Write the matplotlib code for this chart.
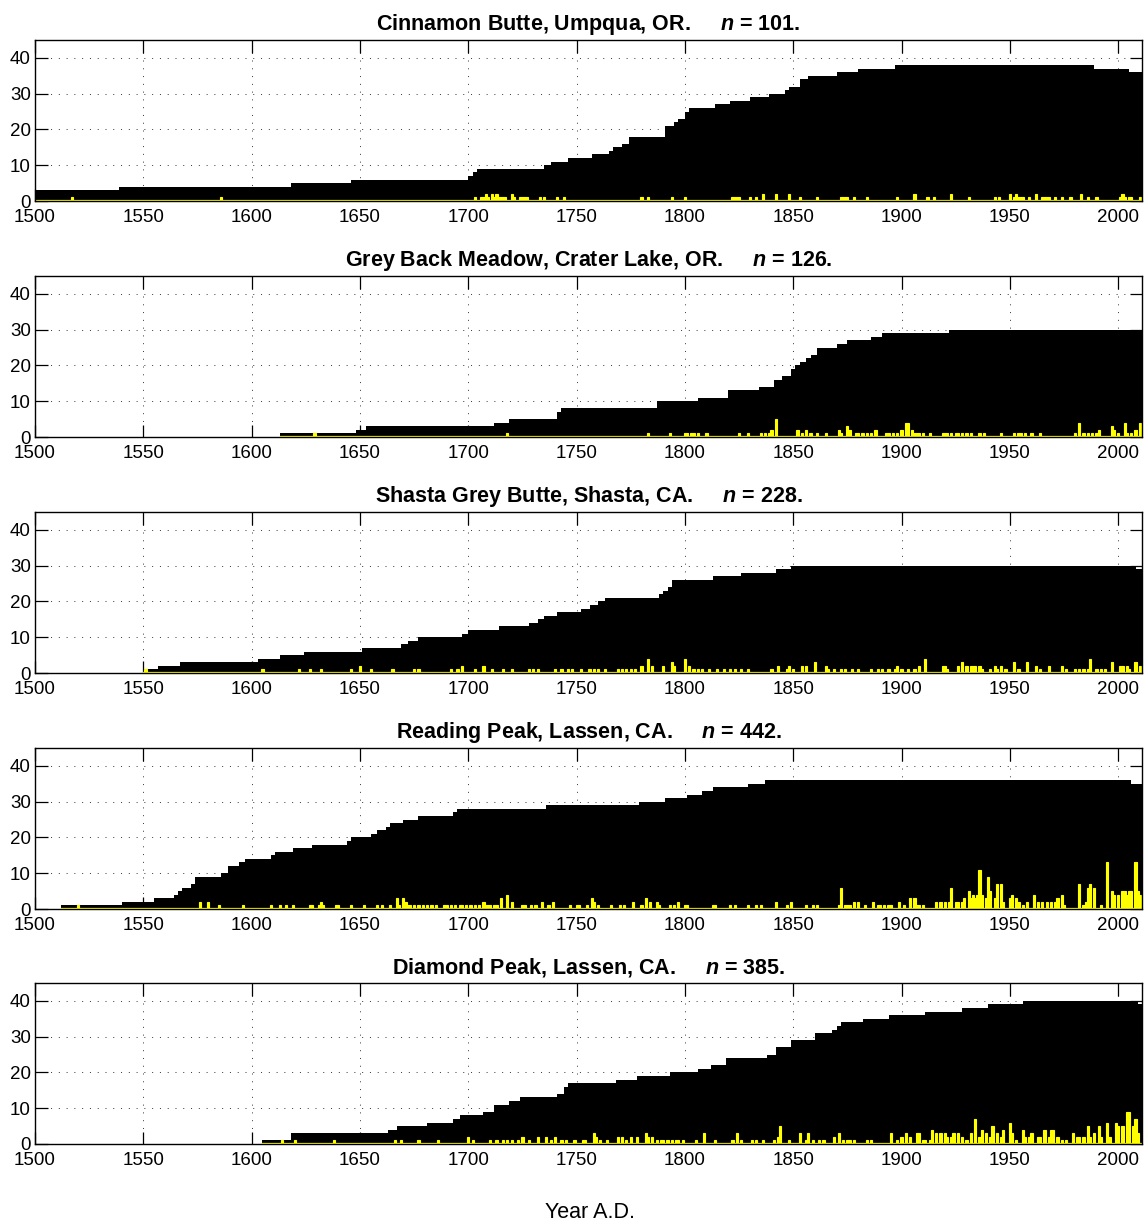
import matplotlib
matplotlib.use("Agg")
import matplotlib.pyplot as plt

plt.rcParams['font.family'] = ['Liberation Sans', 'DejaVu Sans']
plt.rcParams['mathtext.fontset'] = 'custom'
plt.rcParams['mathtext.rm'] = 'Liberation Sans:bold'
plt.rcParams['mathtext.bfit'] = 'Liberation Sans:bold:italic'

END_YEAR = 2011

# site titles and sample sizes
site_names = ["Cinnamon Butte, Umpqua, OR.", "Grey Back Meadow, Crater Lake, OR.",
              "Shasta Grey Butte, Shasta, CA.", "Reading Peak, Lassen, CA.",
              "Diamond Peak, Lassen, CA."]
site_n = [101, 126, 228, 442, 385]

# sample depth: year where depth changes -> new depth
cb_step_yr = [1500, 1539, 1618, 1646, 1700, 1702, 1704, 1735, 1738, 1746, 1757, 1765, 1767,
              1771, 1774, 1791, 1795, 1797, 1800, 1802, 1814, 1821, 1830, 1839, 1846, 1848,
              1853, 1857, 1870, 1880, 1897, 1989, 2005]
cb_step_n = [3, 4, 5, 6, 7, 8, 9, 10, 11, 12, 13, 14, 15, 16, 18, 21, 22, 23, 25, 26, 27, 28,
             29, 30, 31, 32, 34, 35, 36, 37, 38, 37, 36]

gb_step_yr = [1613, 1648, 1653, 1712, 1719, 1741, 1743, 1787, 1806, 1820, 1834, 1841, 1845,
              1849, 1851, 1853, 1856, 1858, 1861, 1870, 1875, 1886, 1891, 1922]
gb_step_n = [1, 2, 3, 4, 5, 7, 8, 10, 11, 13, 14, 16, 17, 19, 20, 21, 22, 23, 25, 26, 27, 28,
             29, 30]

sg_step_yr = [1550, 1557, 1567, 1603, 1613, 1624, 1651, 1669, 1672, 1677, 1697, 1700, 1714,
              1728, 1732, 1735, 1741, 1752, 1756, 1760, 1763, 1788, 1790, 1792, 1794, 1813,
              1826, 1842, 1849, 2008]
sg_step_n = [1, 2, 3, 4, 5, 6, 7, 8, 9, 10, 11, 12, 13, 14, 15, 16, 17, 18, 19, 20, 21, 22, 23,
             24, 26, 27, 28, 29, 30, 29]

rp_step_yr = [1512, 1540, 1555, 1564, 1566, 1568, 1572, 1574, 1586, 1589, 1594, 1597, 1609,
              1611, 1619, 1628, 1644, 1646, 1655, 1658, 1662, 1664, 1670, 1677, 1693, 1695,
              1736, 1779, 1791, 1801, 1808, 1813, 1829, 1837, 2006]
rp_step_n = [1, 2, 3, 4, 5, 6, 7, 9, 10, 12, 13, 14, 15, 16, 17, 18, 19, 20, 21, 22, 23, 24, 25,
             26, 27, 28, 29, 30, 31, 32, 33, 34, 35, 36, 35]

dp_step_yr = [1605, 1618, 1663, 1667, 1681, 1693, 1696, 1707, 1712, 1719, 1724, 1741, 1744,
              1746, 1768, 1778, 1793, 1806, 1812, 1819, 1838, 1842, 1849, 1860, 1868, 1870,
              1872, 1882, 1894, 1911, 1928, 1940, 1956, 2009]
dp_step_n = [1, 3, 4, 5, 6, 7, 8, 9, 11, 12, 13, 14, 16, 17, 18, 19, 20, 21, 22, 24, 25, 27, 29,
             31, 32, 33, 34, 35, 36, 37, 38, 39, 40, 39]

# yearly counts (yellow bars), only non-zero years
cb_yr = [1517, 1586, 1703, 1706, 1707, 1708, 1709, 1711, 1712, 1713, 1714, 1715, 1716, 1717,
         1720, 1721, 1724, 1725, 1726, 1727, 1733, 1735, 1741, 1744, 1780, 1783, 1794, 1800,
         1822, 1823, 1824, 1825, 1830, 1833, 1836, 1842, 1848, 1853, 1861, 1872, 1873, 1874,
         1875, 1878, 1884, 1898, 1906, 1912, 1915, 1923, 1931, 1943, 1945, 1950, 1952, 1953,
         1954, 1955, 1956, 1959, 1962, 1965, 1966, 1967, 1968, 1971, 1974, 1978, 1983, 1986,
         1990, 2001, 2002, 2003, 2005, 2006, 2010]
cb_cnt = [1, 1, 1, 1, 1, 2, 1, 2, 1, 2, 1, 1, 1, 1,
          2, 1, 1, 1, 1, 1, 1, 1, 1, 1, 1, 1, 1, 1,
          1, 1, 1, 1, 1, 1, 2, 2, 2, 1, 1, 1, 1, 1,
          1, 1, 1, 1, 2, 1, 1, 2, 1, 1, 1, 2, 1, 2,
          1, 1, 1, 1, 2, 1, 1, 1, 1, 1, 1, 1, 2, 1,
          1, 1, 2, 1, 1, 1, 1]

gb_yr = [1629, 1718, 1783, 1793, 1800, 1801, 1803, 1804, 1806, 1810, 1825, 1829, 1835, 1837,
         1839, 1840, 1842, 1852, 1854, 1856, 1858, 1861, 1865, 1871, 1872, 1875, 1876, 1879,
         1880, 1882, 1884, 1886, 1888, 1893, 1894, 1896, 1898, 1900, 1902, 1903, 1905, 1906,
         1907, 1908, 1910, 1913, 1919, 1920, 1921, 1923, 1925, 1926, 1928, 1930, 1932, 1936,
         1938, 1946, 1952, 1954, 1955, 1957, 1960, 1964, 1980, 1982, 1984, 1986, 1988, 1990,
         1991, 1997, 1998, 2000, 2003, 2004, 2006, 2008, 2010]
gb_cnt = [1, 1, 1, 1, 1, 1, 1, 1, 1, 1, 1, 1, 1, 1,
          1, 2, 5, 2, 1, 2, 1, 1, 1, 2, 1, 3, 2, 1,
          1, 1, 1, 1, 2, 1, 1, 1, 1, 2, 4, 4, 2, 1,
          1, 1, 1, 1, 1, 1, 1, 1, 1, 1, 1, 1, 1, 1,
          1, 1, 1, 1, 1, 1, 1, 1, 1, 4, 1, 1, 1, 1,
          2, 3, 2, 1, 4, 1, 1, 2, 4]

sg_yr = [1551, 1605, 1622, 1627, 1632, 1646, 1650, 1655, 1665, 1675, 1677, 1692, 1695, 1697,
         1703, 1707, 1711, 1716, 1720, 1728, 1730, 1732, 1740, 1743, 1746, 1748, 1752, 1756,
         1758, 1760, 1763, 1769, 1771, 1773, 1775, 1777, 1780, 1783, 1785, 1790, 1794, 1795,
         1800, 1802, 1804, 1806, 1808, 1811, 1815, 1818, 1821, 1823, 1826, 1829, 1840, 1843,
         1847, 1848, 1850, 1854, 1856, 1860, 1865, 1866, 1869, 1872, 1874, 1877, 1880, 1886,
         1889, 1891, 1894, 1897, 1898, 1900, 1903, 1906, 1908, 1911, 1919, 1920, 1921, 1926,
         1928, 1930, 1932, 1933, 1934, 1936, 1937, 1941, 1943, 1944, 1946, 1948, 1952, 1954,
         1958, 1962, 1964, 1968, 1974, 1976, 1980, 1982, 1984, 1986, 1987, 1990, 1992, 1994,
         1997, 2001, 2002, 2004, 2005, 2008, 2010]
sg_cnt = [1, 1, 1, 1, 1, 1, 2, 1, 1, 1, 1, 1, 1, 2,
          1, 2, 1, 1, 1, 1, 1, 1, 1, 1, 1, 1, 1, 1,
          1, 1, 1, 1, 1, 1, 1, 1, 2, 4, 2, 2, 3, 2,
          4, 2, 1, 1, 1, 1, 1, 1, 1, 1, 1, 1, 1, 2,
          1, 2, 1, 2, 2, 3, 2, 1, 1, 1, 1, 1, 1, 1,
          1, 1, 1, 1, 2, 1, 1, 1, 2, 4, 2, 2, 1, 2,
          3, 2, 2, 2, 2, 2, 1, 1, 2, 1, 2, 1, 3, 1,
          3, 2, 1, 2, 2, 1, 1, 1, 1, 1, 4, 1, 1, 1,
          3, 2, 2, 2, 1, 3, 2]

rp_yr = [1520, 1576, 1580, 1585, 1596, 1609, 1613, 1616, 1619, 1627, 1628, 1631, 1632, 1633,
         1639, 1640, 1646, 1652, 1658, 1660, 1664, 1667, 1668, 1670, 1671, 1672, 1673, 1675,
         1677, 1679, 1681, 1683, 1685, 1689, 1690, 1692, 1694, 1696, 1697, 1699, 1701, 1703,
         1705, 1707, 1708, 1709, 1710, 1712, 1713, 1715, 1718, 1720, 1725, 1726, 1729, 1731,
         1734, 1737, 1739, 1747, 1750, 1751, 1755, 1757, 1758, 1760, 1766, 1770, 1772, 1776,
         1780, 1782, 1784, 1787, 1788, 1793, 1795, 1797, 1800, 1801, 1813, 1814, 1821, 1823,
         1829, 1833, 1835, 1842, 1847, 1849, 1856, 1859, 1861, 1871, 1872, 1874, 1875, 1876,
         1878, 1880, 1883, 1887, 1889, 1890, 1892, 1894, 1895, 1899, 1901, 1904, 1906, 1907,
         1908, 1910, 1916, 1918, 1920, 1922, 1923, 1925, 1926, 1928, 1929, 1931, 1932, 1933,
         1934, 1935, 1936, 1937, 1939, 1940, 1941, 1943, 1944, 1946, 1947, 1950, 1951, 1953,
         1954, 1956, 1958, 1961, 1963, 1965, 1967, 1969, 1971, 1972, 1974, 1975, 1982, 1984,
         1985, 1986, 1987, 1989, 1992, 1995, 1997, 1998, 2000, 2002, 2003, 2004, 2005, 2006,
         2008, 2009, 2010]
rp_cnt = [1, 2, 2, 1, 1, 1, 1, 1, 1, 1, 1, 1, 2, 1,
          1, 1, 1, 1, 1, 1, 1, 3, 1, 3, 2, 1, 1, 1,
          1, 1, 1, 1, 1, 1, 1, 1, 1, 1, 1, 1, 1, 1,
          1, 2, 1, 1, 1, 1, 1, 3, 4, 2, 1, 1, 1, 1,
          2, 1, 2, 1, 1, 1, 1, 3, 2, 1, 1, 1, 1, 2,
          1, 3, 2, 2, 1, 1, 1, 2, 1, 1, 1, 1, 1, 1,
          1, 1, 1, 2, 1, 2, 1, 1, 1, 1, 6, 1, 1, 1,
          2, 2, 1, 2, 1, 1, 1, 1, 1, 2, 1, 3, 3, 1,
          1, 1, 2, 2, 2, 2, 6, 2, 2, 2, 3, 5, 3, 4,
          3, 4, 11, 4, 3, 9, 5, 3, 7, 7, 2, 3, 4, 3,
          2, 1, 2, 4, 2, 2, 2, 2, 2, 3, 4, 1, 7, 1,
          2, 6, 7, 6, 1, 13, 5, 4, 4, 5, 5, 4, 5, 5,
          13, 5, 4]

dp_yr = [1614, 1620, 1638, 1666, 1669, 1677, 1686, 1700, 1702, 1710, 1713, 1716, 1718, 1720,
         1723, 1725, 1728, 1732, 1736, 1738, 1740, 1743, 1745, 1749, 1753, 1754, 1758, 1759,
         1761, 1764, 1769, 1771, 1773, 1775, 1778, 1782, 1783, 1785, 1787, 1789, 1790, 1792,
         1794, 1796, 1797, 1799, 1805, 1809, 1814, 1822, 1824, 1826, 1831, 1833, 1836, 1841,
         1843, 1844, 1848, 1853, 1856, 1857, 1859, 1862, 1864, 1869, 1871, 1873, 1875, 1876,
         1878, 1884, 1886, 1895, 1898, 1900, 1902, 1904, 1907, 1908, 1910, 1911, 1913, 1914,
         1916, 1918, 1920, 1921, 1923, 1924, 1926, 1928, 1930, 1932, 1934, 1936, 1937, 1939,
         1941, 1942, 1944, 1946, 1947, 1950, 1951, 1953, 1956, 1957, 1959, 1960, 1963, 1964,
         1966, 1968, 1969, 1970, 1972, 1974, 1976, 1979, 1981, 1982, 1984, 1986, 1987, 1989,
         1991, 1992, 1995, 1996, 1999, 2000, 2002, 2004, 2005, 2007, 2008, 2009]
dp_cnt = [1, 1, 1, 1, 1, 1, 1, 2, 1, 1, 1, 1, 1, 1,
          1, 2, 1, 2, 2, 1, 2, 1, 1, 1, 1, 1, 3, 2,
          1, 1, 2, 2, 1, 2, 2, 3, 2, 2, 1, 1, 1, 1,
          1, 1, 1, 1, 1, 3, 1, 1, 3, 1, 1, 1, 1, 1,
          2, 5, 1, 3, 1, 3, 1, 1, 1, 2, 3, 1, 1, 1,
          1, 1, 1, 3, 1, 2, 3, 2, 3, 3, 1, 1, 1, 4,
          3, 3, 3, 2, 2, 3, 3, 2, 1, 3, 7, 2, 4, 3,
          2, 5, 3, 2, 4, 6, 3, 1, 4, 2, 2, 3, 2, 2,
          4, 2, 4, 4, 2, 1, 1, 3, 2, 2, 2, 5, 2, 3,
          5, 2, 6, 2, 6, 5, 5, 9, 9, 5, 7, 3]

panels = [
    (cb_step_yr, cb_step_n, cb_yr, cb_cnt),
    (gb_step_yr, gb_step_n, gb_yr, gb_cnt),
    (sg_step_yr, sg_step_n, sg_yr, sg_cnt),
    (rp_step_yr, rp_step_n, rp_yr, rp_cnt),
    (dp_step_yr, dp_step_n, dp_yr, dp_cnt),
]

W, H = 1147, 1228
fig = plt.figure(figsize=(W / 100, H / 100), dpi=100)

left_px, right_px = 35, 1142
zero_px = [201, 437, 673, 909, 1144]
ax_h_px = 161

for i, (step_yr, step_n, yr, cnt) in enumerate(panels):
    ax = fig.add_axes([left_px / W, 1 - zero_px[i] / H,
                       (right_px - left_px) / W, ax_h_px / H])
    edges = step_yr + [END_YEAR]
    ax.stairs(step_n, edges, fill=True, color='black', zorder=1)
    ax.plot([step_yr[0], END_YEAR], [0, 0], color=(1, 1, 0), lw=1.6, zorder=2,
            solid_capstyle='butt')
    ax.bar(yr, cnt, width=1.0, color=(1, 1, 0), edgecolor=(1, 1, 0), linewidth=0.8,
           zorder=3)

    ax.set_xlim(1500, END_YEAR)
    ax.set_ylim(0, 45)
    ax.set_xticks(range(1500, 2001, 50))
    ax.set_yticks(range(0, 41, 10))
    ax.set_axisbelow(True)
    ax.grid(True, linestyle=(0, (1, 7)), color='#333333', linewidth=0.7)
    ax.tick_params(direction='in', length=9, width=0.9, top=True, right=True,
                   labelsize=13.5, colors='black')
    ax.tick_params(axis='x', pad=6)
    ax.tick_params(axis='y', pad=3)
    for s in ax.spines.values():
        s.set_linewidth(1.0)
        s.set_zorder(4)

    ax.set_title(site_names[i] + r"     $\mathbfit{n}$ = " + f"{site_n[i]}.",
                 fontsize=15.5, fontweight='bold', pad=7)

fig.text(0.514, 1 - 1212 / H, "Year A.D.", ha='center', va='center', fontsize=15.5)

fig.savefig("out.png", dpi=100)
